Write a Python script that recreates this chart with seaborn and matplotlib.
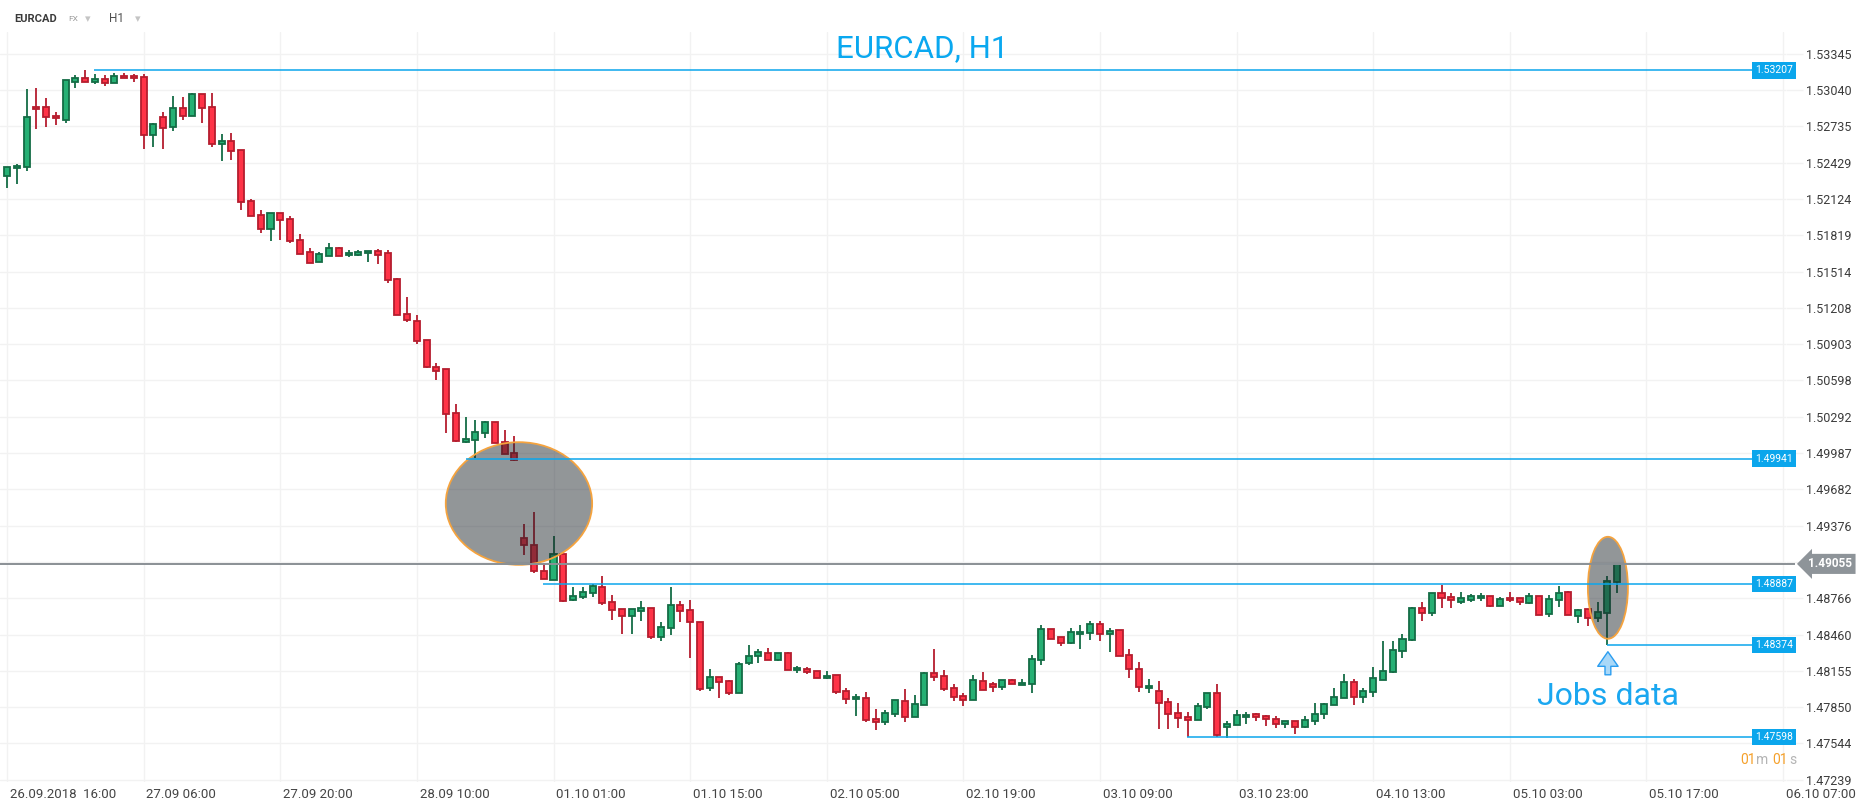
import numpy as np
import matplotlib
matplotlib.use("Agg")
import matplotlib.pyplot as plt
import matplotlib.transforms as mtransforms
from matplotlib.patches import Ellipse
import seaborn as sns

# ---------------- data (EURCAD H1 candles) ----------------
opens = [
    1.52322, 1.52384, 1.52392, 1.52897, 1.52897, 1.52821, 1.52787, 1.53107, 1.53140, 1.53110,
    1.53132, 1.53098, 1.53157, 1.53157, 1.53149, 1.52661, 1.52812, 1.52728, 1.52888, 1.52821,
    1.53006, 1.52897, 1.52585, 1.52611, 1.52535, 1.52106, 1.51988, 1.51871, 1.52005, 1.51955,
    1.51778, 1.51677, 1.51593, 1.51646, 1.51711, 1.51652, 1.51658, 1.51669, 1.51686, 1.51669,
    1.51450, 1.51156, 1.51097, 1.50937, 1.50710, 1.50694, 1.50324, 1.50080, 1.50097, 1.50155,
    1.50248, 1.50080, 1.49987, 1.49272, 1.49214, 1.48995, 1.48919, 1.49138, 1.48755, 1.48773,
    1.48810, 1.48863, 1.48737, 1.48675, 1.48616, 1.48658, 1.48683, 1.48440, 1.48515, 1.48709,
    1.48667, 1.48566, 1.48011, 1.48103, 1.48070, 1.47969, 1.48221, 1.48280, 1.48305, 1.48246,
    1.48305, 1.48162, 1.48170, 1.48154, 1.48095, 1.48120, 1.47985, 1.47918, 1.47927, 1.47750,
    1.47725, 1.47792, 1.47901, 1.47767, 1.47867, 1.48136, 1.48111, 1.48010, 1.47943, 1.47909,
    1.48069, 1.48044, 1.48018, 1.48077, 1.48035, 1.48044, 1.48245, 1.48506, 1.48439, 1.48388,
    1.48464, 1.48472, 1.48548, 1.48464, 1.48498, 1.48288, 1.48170, 1.48010, 1.47985, 1.47892,
    1.47800, 1.47766, 1.47741, 1.47850, 1.47968, 1.47683, 1.47700, 1.47767, 1.47792, 1.47775,
    1.47750, 1.47708, 1.47733, 1.47683, 1.47733, 1.47792, 1.47868, 1.47927, 1.48061, 1.47935,
    1.47977, 1.48078, 1.48145, 1.48322, 1.48414, 1.48683, 1.48641, 1.48810, 1.48776, 1.48734,
    1.48751, 1.48767, 1.48784, 1.48700, 1.48767, 1.48768, 1.48728, 1.48784, 1.48633, 1.48751,
    1.48818, 1.48616, 1.48675, 1.48599, 1.48641, 1.48902,
]
highs = [
    1.52398, 1.52420, 1.53051, 1.53059, 1.52975, 1.52857, 1.53124, 1.53168, 1.53207, 1.53177,
    1.53166, 1.53188, 1.53182, 1.53177, 1.53177, 1.52765, 1.52857, 1.52992, 1.52983, 1.53014,
    1.53006, 1.53017, 1.52672, 1.52681, 1.52535, 1.52123, 1.52033, 1.52005, 1.52005, 1.51983,
    1.51831, 1.51714, 1.51680, 1.51753, 1.51719, 1.51697, 1.51697, 1.51690, 1.51703, 1.51697,
    1.51459, 1.51302, 1.51148, 1.50937, 1.50744, 1.50694, 1.50402, 1.50293, 1.50267, 1.50259,
    1.50248, 1.50183, 1.50133, 1.49393, 1.49491, 1.49062, 1.49292, 1.49138, 1.48858, 1.48858,
    1.48888, 1.48955, 1.48795, 1.48675, 1.48675, 1.48745, 1.48683, 1.48568, 1.48863, 1.48745,
    1.48753, 1.48566, 1.48173, 1.48103, 1.48081, 1.48229, 1.48372, 1.48341, 1.48347, 1.48305,
    1.48313, 1.48196, 1.48187, 1.48154, 1.48154, 1.48120, 1.48011, 1.47960, 1.47977, 1.47834,
    1.47826, 1.47910, 1.48002, 1.47952, 1.48145, 1.48338, 1.48161, 1.48044, 1.47968, 1.48119,
    1.48145, 1.48061, 1.48077, 1.48086, 1.48086, 1.48286, 1.48540, 1.48506, 1.48439, 1.48515,
    1.48540, 1.48573, 1.48573, 1.48515, 1.48498, 1.48338, 1.48229, 1.48086, 1.48069, 1.47926,
    1.47884, 1.47808, 1.47884, 1.47968, 1.48044, 1.47733, 1.47826, 1.47809, 1.47800, 1.47784,
    1.47775, 1.47733, 1.47733, 1.47775, 1.47885, 1.47885, 1.48011, 1.48128, 1.48086, 1.48011,
    1.48187, 1.48406, 1.48406, 1.48465, 1.48692, 1.48734, 1.48810, 1.48877, 1.48810, 1.48818,
    1.48801, 1.48810, 1.48784, 1.48776, 1.48818, 1.48768, 1.48810, 1.48784, 1.48793, 1.48866,
    1.48826, 1.48675, 1.48675, 1.48737, 1.48955, 1.49055,
]
lows = [
    1.52221, 1.52255, 1.52364, 1.52717, 1.52734, 1.52751, 1.52768, 1.53062, 1.53107, 1.53096,
    1.53079, 1.53098, 1.53140, 1.53112, 1.52549, 1.52566, 1.52549, 1.52700, 1.52793, 1.52821,
    1.52768, 1.52566, 1.52448, 1.52456, 1.52036, 1.51980, 1.51843, 1.51775, 1.51784, 1.51758,
    1.51660, 1.51585, 1.51593, 1.51646, 1.51646, 1.51640, 1.51649, 1.51599, 1.51582, 1.51422,
    1.51148, 1.51086, 1.50901, 1.50699, 1.50598, 1.50153, 1.50077, 1.50071, 1.49942, 1.50110,
    1.50071, 1.49979, 1.49920, 1.49129, 1.48978, 1.48928, 1.48919, 1.48735, 1.48740, 1.48760,
    1.48776, 1.48706, 1.48585, 1.48462, 1.48462, 1.48571, 1.48423, 1.48403, 1.48454, 1.48563,
    1.48260, 1.47983, 1.47983, 1.47924, 1.47949, 1.47969, 1.48204, 1.48221, 1.48246, 1.48238,
    1.48162, 1.48137, 1.48128, 1.48095, 1.48086, 1.47960, 1.47876, 1.47772, 1.47725, 1.47655,
    1.47700, 1.47767, 1.47725, 1.47767, 1.47867, 1.48069, 1.47985, 1.47901, 1.47859, 1.47909,
    1.47993, 1.47976, 1.47993, 1.48044, 1.48035, 1.47968, 1.48203, 1.48422, 1.48363, 1.48380,
    1.48338, 1.48414, 1.48405, 1.48313, 1.48279, 1.48094, 1.47976, 1.47968, 1.47665, 1.47665,
    1.47674, 1.47598, 1.47741, 1.47833, 1.47600, 1.47590, 1.47700, 1.47708, 1.47733, 1.47691,
    1.47674, 1.47674, 1.47624, 1.47674, 1.47700, 1.47750, 1.47868, 1.47927, 1.47868, 1.47885,
    1.47935, 1.48078, 1.48137, 1.48263, 1.48406, 1.48574, 1.48616, 1.48683, 1.48683, 1.48717,
    1.48734, 1.48742, 1.48692, 1.48700, 1.48734, 1.48706, 1.48720, 1.48625, 1.48608, 1.48692,
    1.48625, 1.48557, 1.48529, 1.48566, 1.48374, 1.48807,
]
closes = [
    1.52392, 1.52403, 1.52812, 1.52880, 1.52812, 1.52804, 1.53124, 1.53140, 1.53107, 1.53132,
    1.53098, 1.53157, 1.53140, 1.53140, 1.52661, 1.52754, 1.52720, 1.52888, 1.52821, 1.53009,
    1.52888, 1.52585, 1.52611, 1.52527, 1.52098, 1.51980, 1.51871, 1.52005, 1.51946, 1.51770,
    1.51660, 1.51585, 1.51660, 1.51711, 1.51646, 1.51671, 1.51677, 1.51686, 1.51658, 1.51442,
    1.51148, 1.51106, 1.50929, 1.50710, 1.50682, 1.50315, 1.50088, 1.50105, 1.50164, 1.50248,
    1.50071, 1.49979, 1.49930, 1.49214, 1.48995, 1.48928, 1.49138, 1.48745, 1.48787, 1.48821,
    1.48866, 1.48725, 1.48667, 1.48616, 1.48675, 1.48683, 1.48440, 1.48524, 1.48709, 1.48658,
    1.48566, 1.48002, 1.48103, 1.48061, 1.47969, 1.48213, 1.48280, 1.48313, 1.48246, 1.48305,
    1.48162, 1.48179, 1.48145, 1.48095, 1.48112, 1.47977, 1.47918, 1.47935, 1.47742, 1.47725,
    1.47800, 1.47910, 1.47767, 1.47876, 1.48136, 1.48103, 1.48002, 1.47934, 1.47909, 1.48077,
    1.47993, 1.48018, 1.48077, 1.48044, 1.48052, 1.48254, 1.48506, 1.48422, 1.48388, 1.48481,
    1.48481, 1.48548, 1.48464, 1.48489, 1.48279, 1.48170, 1.48018, 1.48027, 1.47884, 1.47791,
    1.47758, 1.47741, 1.47859, 1.47968, 1.47615, 1.47708, 1.47784, 1.47784, 1.47767, 1.47750,
    1.47708, 1.47733, 1.47683, 1.47742, 1.47792, 1.47876, 1.47935, 1.48061, 1.47935, 1.47985,
    1.48095, 1.48154, 1.48330, 1.48423, 1.48683, 1.48641, 1.48810, 1.48767, 1.48751, 1.48767,
    1.48784, 1.48784, 1.48700, 1.48759, 1.48751, 1.48737, 1.48784, 1.48625, 1.48759, 1.48810,
    1.48625, 1.48667, 1.48599, 1.48650, 1.48914, 1.49055,
]

time_labels = ["26.09.2018  16:00", "27.09 06:00", "27.09 20:00", "28.09 10:00",
               "01.10 01:00", "01.10 15:00", "02.10 05:00", "02.10 19:00",
               "03.10 09:00", "03.10 23:00", "04.10 13:00", "05.10 03:00",
               "05.10 17:00", "06.10 07:00"]
hours_per_label = 14

price_tick_labels = ["1.47239", "1.47544", "1.47850", "1.48155", "1.48460", "1.48766",
                     "1.49071", "1.49376", "1.49682", "1.49987", "1.50292", "1.50598",
                     "1.50903", "1.51208", "1.51514", "1.51819", "1.52124", "1.52429",
                     "1.52735", "1.53040", "1.53345"]
hidden_tick = "1.49071"

level_prices = [1.53207, 1.49941, 1.48887, 1.48374, 1.47598]
level_texts = ["1.53207", "1.49941", "1.48887", "1.48374", "1.47598"]
level_start = [8.9, 47.0, 54.9, 164.0, 120.9]
last_price = 1.49055
last_price_text = "1.49055"

highlight_x = [52.46, 164.05]
highlight_y = [1.49563, 1.48854]
highlight_w = [15.0, 4.1]
highlight_h = [0.01032, 0.00858]

event_label = "Jobs data"
event_index = 164.05
event_text_y = 1.47870
event_arrow = (1.48122, 1.48316)

title_text = "EURCAD, H1"

# ---------------- style ----------------
sns.set_theme(style="whitegrid")
plt.rcParams['font.family'] = ['Roboto', 'DejaVu Sans']

GREEN_FILL = "#26b074"
GREEN_EDGE = "#146c45"
RED_FILL = "#ff3347"
RED_EDGE = "#b51d2e"
BLUE = "#0ba6ec"
GRID = "#f2f2f2"

W, H = 1866, 806
fig = plt.figure(figsize=(W / 100, H / 100), dpi=100)
fig.patch.set_facecolor("white")
ax_left, ax_right, ax_top, ax_bottom = 0, 1786, 32, 782
ax = fig.add_axes([ax_left / W, 1 - ax_bottom / H, (ax_right - ax_left) / W, (ax_bottom - ax_top) / H])
ax.set_facecolor("white")

o = np.array(opens); h = np.array(highs); l = np.array(lows); c = np.array(closes)
idx = np.arange(len(o))
up = c >= o
fill = np.where(up, GREEN_FILL, RED_FILL)
edge = np.where(up, GREEN_EDGE, RED_EDGE)

ax.vlines(idx, l, h, colors=edge, linewidth=1.3, zorder=2)
body_bottom = np.minimum(o, c)
body_h = np.maximum(np.abs(c - o), 0.00005)
ax.bar(idx, body_h, bottom=body_bottom, width=0.62, color=fill, edgecolor=edge,
       linewidth=1.3, zorder=3)

# highlight ellipses
for x0, y0, w0, h0 in zip(highlight_x, highlight_y, highlight_w, highlight_h):
    ax.add_patch(Ellipse((x0, y0), w0, h0, facecolor=(0.11, 0.14, 0.16, 0.48),
                         edgecolor="#f5a33e", linewidth=1.3, zorder=4))

xmin, xmax = -0.72, 182.3
ax.set_xlim(xmin, xmax)
ax.set_ylim(1.47220, 1.53530)

# level lines and tags
tag_tr = mtransforms.blended_transform_factory(fig.transFigure, ax.transData)
for p, s, t in zip(level_prices, level_start, level_texts):
    ax.hlines(p, s, xmax, color=BLUE, linewidth=1.1, zorder=5)
    ax.text(1774 / W, p, t, transform=tag_tr, ha="center", va="center", fontsize=7.5,
            color="white", zorder=7, clip_on=False,
            bbox=dict(boxstyle="square,pad=0.3", fc=BLUE, ec="none"))

# last price line + tag
ax.hlines(last_price, xmin, 183.2, color="#8a9095", linewidth=1.4, zorder=5, clip_on=False)
ax.text(1808 / W, last_price, last_price_text, transform=tag_tr, ha="left", va="center",
        fontsize=8.5, fontweight="bold", color="white", zorder=8, clip_on=False,
        bbox=dict(boxstyle="larrow,pad=0.3", fc="#8e9499", ec="none"))

# axes ticks
xt = np.arange(len(time_labels)) * hours_per_label
ax.set_xticks(xt)
ax.set_xticklabels(time_labels)
ax.tick_params(axis="x", length=0, pad=4, labelsize=9.5, labelcolor="#444444")
offset = mtransforms.ScaledTranslation(2 / 72, 0, fig.dpi_scale_trans)
for lbl in ax.get_xticklabels():
    lbl.set_ha("left")
    lbl.set_family(["Liberation Sans Narrow", "Roboto", "DejaVu Sans"])
    lbl.set_transform(lbl.get_transform() + offset)

yt = [float(v) for v in price_tick_labels]
ax.yaxis.tick_right()
ax.set_yticks(yt)
ax.set_yticklabels(["" if v == hidden_tick else v for v in price_tick_labels])
ax.tick_params(axis="y", length=12.5, width=1, color=GRID, pad=2, labelsize=9,
               labelcolor="#3c3c3c")
ax.grid(True, color=GRID, linewidth=1)
for sp in ax.spines.values():
    sp.set_visible(False)

# texts
fig.text(922 / W, 1 - 57 / H, title_text, ha="center", va="baseline", fontsize=22.5,
         color="#0aa8f0")
ax.text(event_index, event_text_y, event_label, ha="center", va="baseline", fontsize=23,
        color="#1aa7f0", zorder=6)
ax.annotate("", xy=(event_index, event_arrow[1]), xytext=(event_index, event_arrow[0]),
            arrowprops=dict(arrowstyle="simple,head_length=0.75,head_width=1.05,tail_width=0.3",
                            fc="#a9d8f8", ec="#2a9df0", lw=1, shrinkA=0, shrinkB=0,
                            mutation_scale=14), zorder=6)

# header
fig.text(14 / W, 1 - 19 / H, "EURCAD", ha="left", va="center", fontsize=8,
         fontweight="bold", color="#3a3a3a")
fig.text(68 / W, 1 - 19 / H, "FX", ha="left", va="center", fontsize=6, color="#9a9a9a")
fig.text(85 / W, 1 - 19 / H, "▾", ha="left", va="center", fontsize=8, color="#c4c4c4")
fig.text(109 / W, 1 - 19 / H, "H1", ha="left", va="center", fontsize=8.5, color="#505050")
fig.text(135 / W, 1 - 19 / H, "▾", ha="left", va="center", fontsize=8, color="#c4c4c4")

# countdown
cy = 1 - 760 / H
fig.text(1740 / W, cy, "01", ha="left", va="center", fontsize=10, color="#f5a02a")
fig.text(1756 / W, cy, "m", ha="left", va="center", fontsize=10, color="#b4b4b4")
fig.text(1772 / W, cy, "01", ha="left", va="center", fontsize=10, color="#f5a02a")
fig.text(1789 / W, cy, "s", ha="left", va="center", fontsize=10, color="#b4b4b4")

fig.savefig("out.png", dpi=100, facecolor="white")
